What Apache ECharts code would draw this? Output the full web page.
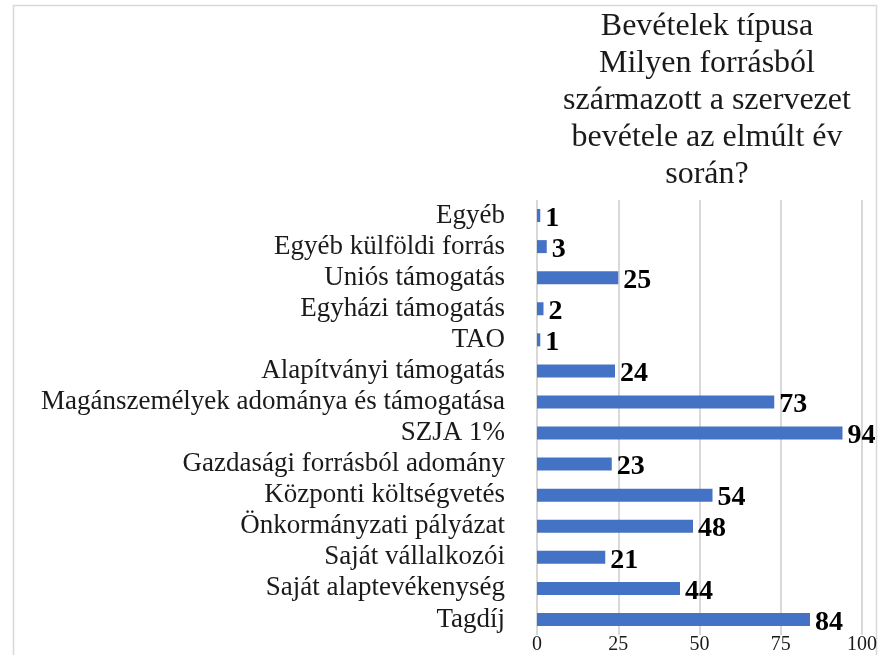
<!DOCTYPE html>
<html>
<head>
<meta charset="utf-8">
<script src="https://cdn.jsdelivr.net/npm/echarts@6/dist/echarts.min.js"></script>
<style>
  html, body { margin: 0; padding: 0; background: #fff; }
  #main { width: 886px; height: 655px; }
</style>
</head>
<body>
<div id="main"></div>
<script>
// kategóriák alulról felfelé (ECharts category y tengely)
var categories = ['Tagdíj', 'Saját alaptevékenység', 'Saját vállalkozói', 'Önkormányzati pályázat',
  'Központi költségvetés', 'Gazdasági forrásból adomány', 'SZJA 1%',
  'Magánszemélyek adománya és támogatása', 'Alapítványi támogatás', 'TAO',
  'Egyházi támogatás', 'Uniós támogatás', 'Egyéb külföldi forrás', 'Egyéb'];
var values = [84, 44, 21, 48, 54, 23, 94, 73, 24, 1, 2, 25, 3, 1];
var xTicks = [0, 25, 50, 75, 100];
var titleText = 'Bevételek típusa\nMilyen forrásból\nszármazott a szervezet\nbevétele az elmúlt év\nsorán?';

var myChart = echarts.init(document.getElementById('main'));
var serif = '"Liberation Serif", "DejaVu Serif", serif';

var option = {
    animation: false,
    backgroundColor: '#fff',
    graphic: [
        {
            type: 'rect',
            shape: { x: 13.5, y: 5.5, width: 863, height: 700 },
            style: { fill: 'none', stroke: '#d9d9d9', lineWidth: 1.5 },
            silent: true
        }
    ],
    title: {
        text: titleText,
        left: 702,
        top: 3,
        textAlign: 'center',
        textStyle: {
            fontFamily: serif,
            fontSize: 32,
            fontWeight: 'normal',
            color: '#1a1a1a',
            lineHeight: 37
        }
    },
    grid: {
        left: 537,
        right: 24,
        top: 200,
        bottom: 17,
        containLabel: false
    },
    xAxis: {
        type: 'value',
        min: xTicks[0],
        max: xTicks[xTicks.length - 1],
        interval: 25,
        axisLine: { show: false },
        axisTick: { show: false },
        splitLine: { lineStyle: { color: '#d9d9d9', width: 2 } },
        axisLabel: {
            fontFamily: serif,
            fontSize: 20,
            color: '#1a1a1a',
            margin: 0
        }
    },
    yAxis: {
        type: 'category',
        data: categories,
        axisLine: { show: false },
        axisTick: { show: false },
        axisLabel: {
            interval: 0,
            fontFamily: serif,
            fontSize: 27,
            color: '#1a1a1a',
            margin: 32
        }
    },
    series: [
        {
            type: 'bar',
            data: values,
            barWidth: 13,
            itemStyle: { color: '#4472c4' },
            label: {
                show: true,
                position: 'right',
                distance: 5,
                fontFamily: serif,
                fontSize: 28,
                fontWeight: 'bold',
                color: '#000',
                offset: [0, 3]
            }
        }
    ]
};

myChart.setOption(option);
</script>
</body>
</html>
